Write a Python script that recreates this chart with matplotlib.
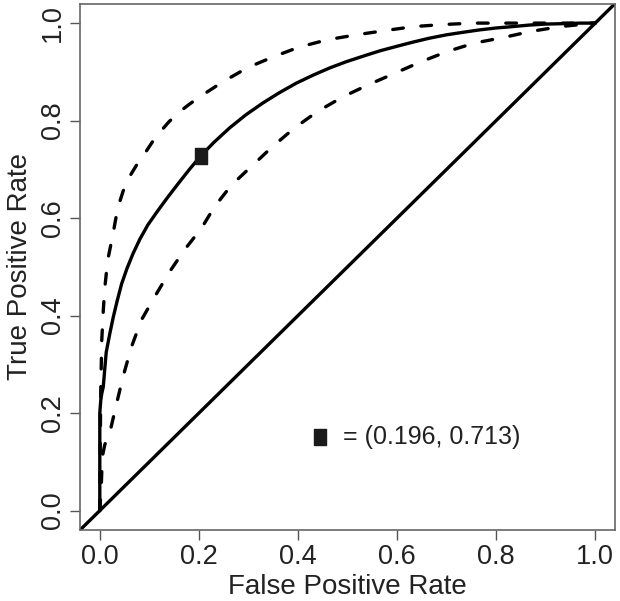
import matplotlib
matplotlib.use("Agg")
import matplotlib.pyplot as plt

plt.rcParams['font.family'] = ['Liberation Sans', 'DejaVu Sans']

# ROC curve
fpr_mid = [0.0, 0.0, 0.002, 0.004, 0.007, 0.01, 0.013, 0.02, 0.027, 0.035, 0.044, 0.055, 0.067,
           0.081, 0.097, 0.117, 0.138, 0.16, 0.181, 0.204, 0.23, 0.262, 0.295, 0.329, 0.362,
           0.397, 0.43, 0.464, 0.498, 0.531, 0.565, 0.598, 0.632, 0.665, 0.7, 0.732, 0.766,
           0.8, 0.835, 0.867, 0.9, 0.94, 0.97, 1.0]
tpr_mid = [0.0, 0.2, 0.227, 0.24, 0.254, 0.29, 0.325, 0.362, 0.396, 0.43, 0.465, 0.497, 0.527,
           0.557, 0.586, 0.615, 0.644, 0.673, 0.70, 0.728, 0.755, 0.785, 0.812, 0.836, 0.857,
           0.877, 0.893, 0.908, 0.921, 0.932, 0.943, 0.952, 0.961, 0.969, 0.976, 0.981, 0.986,
           0.99, 0.993, 0.996, 0.998, 0.999, 1.0, 1.0]

# upper confidence band
fpr_up = [0.0, 0.001, 0.002, 0.004, 0.007, 0.01, 0.016, 0.027, 0.036, 0.047, 0.06, 0.075,
          0.091, 0.106, 0.121, 0.14, 0.161, 0.18, 0.202, 0.249, 0.299, 0.353, 0.403, 0.46,
          0.518, 0.578, 0.635, 0.692, 0.752, 0.85, 1.0]
tpr_up = [0.0, 0.15, 0.25, 0.35, 0.41, 0.456, 0.514, 0.569, 0.62, 0.655, 0.685, 0.71,
          0.733, 0.756, 0.776, 0.798, 0.818, 0.833, 0.849, 0.88, 0.909, 0.932, 0.951, 0.966,
          0.976, 0.985, 0.993, 0.997, 1.0, 1.0, 1.0]

# lower confidence band
fpr_lo = [0.0, 0.003, 0.005, 0.01, 0.02, 0.034, 0.047, 0.064, 0.084, 0.111, 0.141, 0.171,
          0.205, 0.232, 0.266, 0.306, 0.349, 0.393, 0.44, 0.491, 0.541, 0.595, 0.649, 0.702,
          0.756, 0.817, 0.87, 0.931, 0.98, 1.0]
tpr_lo = [0.0, 0.05, 0.11, 0.135, 0.159, 0.22, 0.275, 0.336, 0.391, 0.439, 0.49, 0.535,
          0.579, 0.624, 0.668, 0.706, 0.747, 0.785, 0.819, 0.849, 0.873, 0.897, 0.921, 0.942,
          0.959, 0.971, 0.983, 0.993, 0.998, 1.0]

# optimal cut-off point
pt_x, pt_y = 0.204, 0.728
pt_label = "= (0.196, 0.713)"

ticks = [0.0, 0.2, 0.4, 0.6, 0.8, 1.0]
tick_labels = ["0.0", "0.2", "0.4", "0.6", "0.8", "1.0"]

fig = plt.figure(figsize=(6.2, 6.01), dpi=100)
ax = fig.add_axes([0.129, 0.118, 0.863, 0.876])

rect = [(-0.35, -0.5), (0.35, -0.5), (0.35, 0.5), (-0.35, 0.5), (-0.35, -0.5)]
lw = 2.4

ax.plot(fpr_mid, tpr_mid, color='black', lw=lw, solid_capstyle='round', solid_joinstyle='round')
ax.plot(fpr_up, tpr_up, color='black', lw=lw, dashes=(3.2, 5.3), dash_capstyle='round')
ax.plot(fpr_lo, tpr_lo, color='black', lw=lw, dashes=(3.2, 5.3), dash_capstyle='round')
ax.axline((0, 0), (1, 1), color='black', lw=lw)
ax.plot([pt_x], [pt_y], marker=rect, markersize=12, color='#1a1a1a', ls='none')

ax.plot([0.444], [0.151], marker=rect, markersize=12, color='#1a1a1a', ls='none')
ax.text(0.49, 0.151, pt_label, fontsize=18, va='center', ha='left', color='#222222')

ax.set_xlim(-0.04, 1.04)
ax.set_ylim(-0.04, 1.04)
ax.set_xticks(ticks)
ax.set_xticklabels(tick_labels)
ax.set_yticks(ticks)
ax.set_yticklabels(tick_labels, rotation=90, va='center')
ax.tick_params(labelsize=19.5, length=7, width=1, colors='#555555', labelcolor='#222222', pad=3)
for s in ax.spines.values():
    s.set_color('#666666')
    s.set_linewidth(1.2)

ax.set_xlabel('False Positive Rate', fontsize=20, color='#222222', labelpad=3)
ax.set_ylabel('True Positive Rate', fontsize=20, color='#222222', labelpad=5)

plt.savefig("out.png", dpi=100)
